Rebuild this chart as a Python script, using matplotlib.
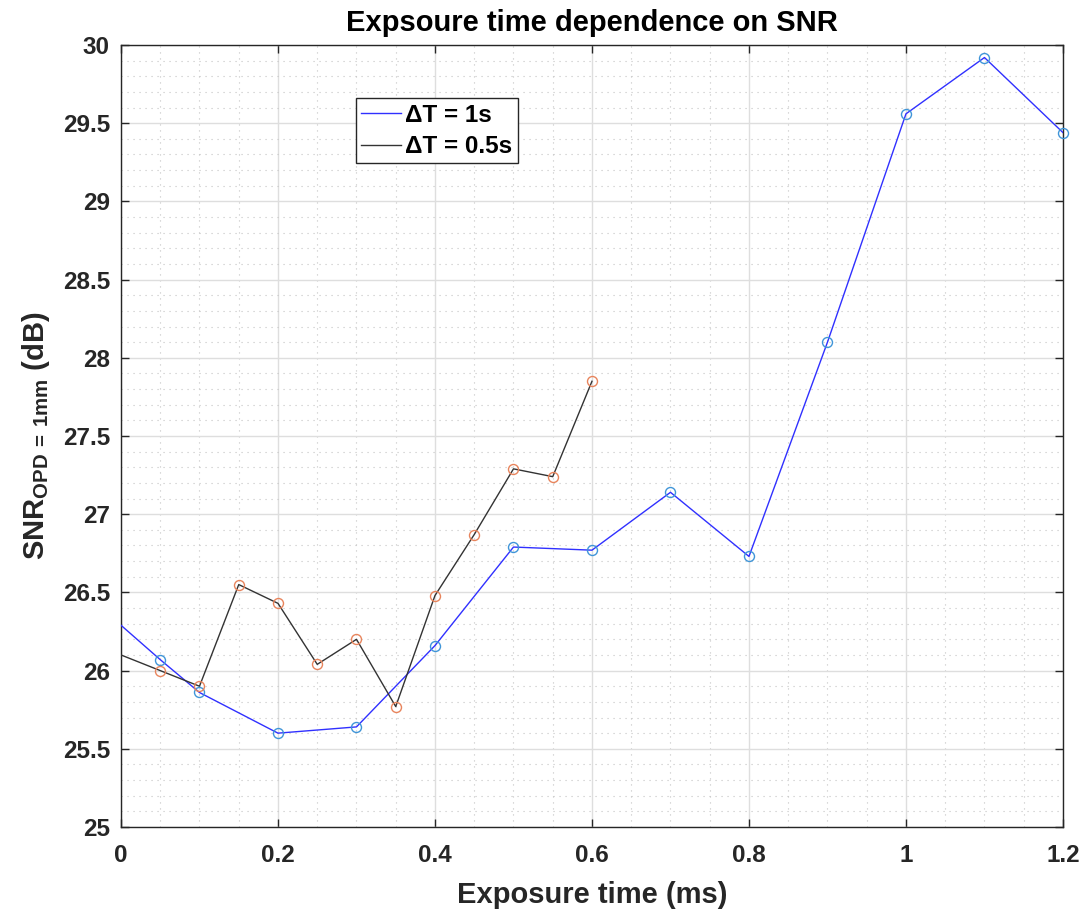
import matplotlib
matplotlib.use("Agg")
import matplotlib.pyplot as plt
from matplotlib.ticker import MultipleLocator

plt.rcParams['font.family'] = ['Liberation Sans', 'DejaVu Sans']
plt.rcParams['font.weight'] = 'bold'
plt.rcParams['mathtext.fontset'] = 'custom'
plt.rcParams['mathtext.rm'] = 'Liberation Sans:bold'
plt.rcParams['mathtext.default'] = 'rm'

# Exposure series, dT = 1 s
exp_1s = [0.0, 0.05, 0.1, 0.2, 0.3, 0.4, 0.5, 0.6, 0.7, 0.8, 0.9, 1.0, 1.1, 1.2]
snr_1s = [26.29, 26.07, 25.86, 25.60, 25.64, 26.16, 26.79, 26.77, 27.14, 26.73, 28.10, 29.56, 29.92, 29.44]

# Exposure series, dT = 0.5 s
exp_05s = [0.0, 0.05, 0.1, 0.15, 0.2, 0.25, 0.3, 0.35, 0.4, 0.45, 0.5, 0.55, 0.6]
snr_05s = [26.10, 26.00, 25.90, 26.55, 26.43, 26.04, 26.20, 25.77, 26.48, 26.87, 27.29, 27.24, 27.85]

labels = ['\u0394T = 1s', '\u0394T = 0.5s']
xtick_vals = [0, 0.2, 0.4, 0.6, 0.8, 1.0, 1.2]
xtick_text = ['0', '0.2', '0.4', '0.6', '0.8', '1', '1.2']
ytick_vals = [25 + 0.5 * i for i in range(11)]
ytick_text = ['25', '25.5', '26', '26.5', '27', '27.5', '28', '28.5', '29', '29.5', '30']

fig = plt.figure(figsize=(10.89, 9.13), dpi=100)
ax = fig.add_axes([0.1111, 0.0942, 0.8650, 0.8565])

ax.plot(exp_1s, snr_1s, color='#3030ff', lw=1.0, label=labels[0], zorder=3)
ax.plot(exp_05s, snr_05s, color='#333333', lw=1.0, label=labels[1], zorder=3)
ax.plot(exp_1s[1:], snr_1s[1:], ls='none', marker='o', ms=7.2, mfc='none',
        mec='#3f95d8', mew=1.0, zorder=4, clip_on=False)
ax.plot(exp_05s[1:], snr_05s[1:], ls='none', marker='o', ms=7.2, mfc='none',
        mec='#e8845c', mew=1.0, zorder=4, clip_on=False)

ax.set_xlim(0, 1.2)
ax.set_ylim(25, 30)
ax.xaxis.set_minor_locator(MultipleLocator(0.05))
ax.yaxis.set_minor_locator(MultipleLocator(0.1))
ax.set_xticks(xtick_vals)
ax.set_xticklabels(xtick_text)
ax.set_yticks(ytick_vals)
ax.set_yticklabels(ytick_text)

ax.grid(which='major', color='#dedede', lw=1.0, ls='-')
ax.grid(which='minor', color='#c4c4c4', lw=0.8, ls=(0, (1, 4.4)))
ax.set_axisbelow(True)

ax.tick_params(which='both', direction='in', top=True, right=True,
               labelsize=17.5, colors='#262626')
ax.tick_params(which='major', length=6, width=1.0, color='#262626')
ax.tick_params(which='minor', length=0)
ax.tick_params(axis='x', pad=12)
ax.tick_params(axis='y', pad=8)
for s in ax.spines.values():
    s.set_color('#262626')
    s.set_linewidth(1.0)

ax.set_title('Expsoure time dependence on SNR', fontsize=21, fontweight='bold', pad=10)
ax.set_xlabel('Exposure time (ms)', fontsize=21, fontweight='bold', labelpad=10, color='#262626')
ax.set_ylabel(r'SNR$_{\mathrm{OPD\,{=}\,1mm}}$ (dB)', fontsize=21, fontweight='bold',
              labelpad=8, color='#262626')

leg = ax.legend(loc='upper left', bbox_to_anchor=(0.2495, 0.932), borderaxespad=0,
                fontsize=17.5, frameon=True, fancybox=False, handlelength=1.65,
                handletextpad=0.15, borderpad=0.22, labelspacing=0.35)
leg.get_frame().set_edgecolor('#262626')
leg.get_frame().set_linewidth(1.0)
leg.get_frame().set_alpha(1)

fig.savefig('out.png', dpi=100)
